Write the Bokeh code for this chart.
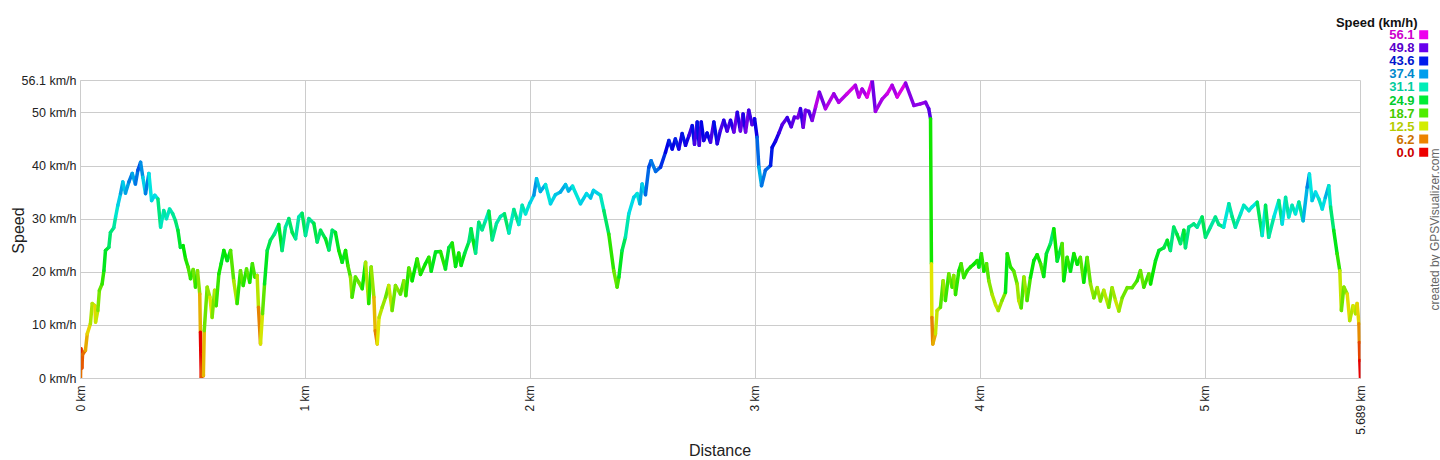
import math
import colorsys
from bokeh.plotting import figure
from bokeh.models import Range1d, FixedTicker, Label, ColumnDataSource, GridBox
from bokeh.transform import linear_cmap
from bokeh.embed import file_html
from bokeh.resources import INLINE

# ---------------- data ----------------
distance_km = [
    0.000, 0.002, 0.006, 0.009, 0.022, 0.030, 0.044, 0.052, 0.064, 0.067,
    0.077, 0.084, 0.096, 0.104, 0.111, 0.126, 0.133, 0.148, 0.156, 0.166,
    0.178, 0.188, 0.200, 0.215, 0.230, 0.244, 0.255, 0.267, 0.277, 0.289,
    0.304, 0.316, 0.330, 0.344, 0.356, 0.370, 0.382, 0.396, 0.410, 0.422,
    0.433, 0.444, 0.456, 0.467, 0.478, 0.489, 0.501, 0.511, 0.520, 0.530,
    0.533, 0.537, 0.543, 0.546, 0.550, 0.563, 0.575, 0.585, 0.596, 0.603,
    0.615, 0.625, 0.637, 0.652, 0.667, 0.681, 0.696, 0.711, 0.723, 0.738,
    0.752, 0.764, 0.775, 0.785, 0.791, 0.800, 0.809, 0.818, 0.830, 0.844,
    0.862, 0.881, 0.896, 0.911, 0.926, 0.941, 0.956, 0.970, 0.985, 1.000,
    1.015, 1.037, 1.052, 1.067, 1.089, 1.104, 1.119, 1.133, 1.148, 1.163,
    1.178, 1.188, 1.200, 1.207, 1.222, 1.237, 1.252, 1.267, 1.281, 1.292,
    1.304, 1.310, 1.319, 1.327, 1.341, 1.356, 1.370, 1.385, 1.400, 1.422,
    1.437, 1.446, 1.459, 1.474, 1.496, 1.511, 1.533, 1.548, 1.559, 1.578,
    1.600, 1.622, 1.637, 1.652, 1.667, 1.681, 1.692, 1.707, 1.726, 1.736,
    1.745, 1.756, 1.770, 1.785, 1.800, 1.815, 1.830, 1.849, 1.867, 1.884,
    1.904, 1.926, 1.948, 1.963, 1.978, 1.997, 2.015, 2.027, 2.044, 2.067,
    2.089, 2.111, 2.133, 2.156, 2.169, 2.187, 2.222, 2.249, 2.267, 2.280,
    2.311, 2.326, 2.348, 2.370, 2.385, 2.393, 2.407, 2.422, 2.437, 2.459,
    2.474, 2.486, 2.496, 2.511, 2.526, 2.536, 2.556, 2.578, 2.600, 2.615,
    2.630, 2.644, 2.659, 2.674, 2.689, 2.704, 2.719, 2.729, 2.741, 2.750,
    2.759, 2.770, 2.785, 2.800, 2.815, 2.830, 2.844, 2.859, 2.874, 2.889,
    2.904, 2.919, 2.933, 2.945, 2.956, 2.970, 2.985, 2.996, 3.007, 3.015,
    3.027, 3.044, 3.067, 3.074, 3.089, 3.104, 3.119, 3.141, 3.159, 3.173,
    3.188, 3.200, 3.212, 3.222, 3.237, 3.252, 3.267, 3.284, 3.311, 3.348,
    3.370, 3.407, 3.444, 3.459, 3.474, 3.496, 3.519, 3.533, 3.563, 3.585,
    3.607, 3.630, 3.667, 3.704, 3.733, 3.756, 3.770, 3.778, 3.782, 3.784,
    3.788, 3.800, 3.807, 3.822, 3.834, 3.844, 3.859, 3.874, 3.881, 3.889,
    3.904, 3.914, 3.926, 3.941, 3.956, 3.970, 3.985, 3.993, 4.004, 4.015,
    4.027, 4.037, 4.052, 4.067, 4.079, 4.096, 4.111, 4.119, 4.133, 4.148,
    4.163, 4.170, 4.181, 4.193, 4.207, 4.222, 4.237, 4.252, 4.267, 4.281,
    4.293, 4.311, 4.326, 4.341, 4.363, 4.370, 4.385, 4.400, 4.415, 4.430,
    4.444, 4.459, 4.474, 4.489, 4.504, 4.519, 4.533, 4.548, 4.570, 4.585,
    4.600, 4.615, 4.630, 4.652, 4.674, 4.696, 4.711, 4.726, 4.748, 4.756,
    4.778, 4.793, 4.815, 4.830, 4.844, 4.859, 4.874, 4.889, 4.904, 4.911,
    4.926, 4.948, 4.963, 4.985, 5.000, 5.022, 5.044, 5.059, 5.081, 5.104,
    5.119, 5.133, 5.156, 5.170, 5.193, 5.207, 5.230, 5.252, 5.267, 5.281,
    5.304, 5.326, 5.341, 5.356, 5.370, 5.385, 5.400, 5.415, 5.434, 5.452,
    5.462, 5.474, 5.489, 5.504, 5.519, 5.533, 5.548, 5.556, 5.570, 5.585,
    5.597, 5.604, 5.615, 5.630, 5.641, 5.656, 5.667, 5.674, 5.682, 5.684,
    5.686, 5.689,
]

speed_kmh = [
    0.0, 5.6, 2.0, 4.5, 5.3, 8.4, 10.3, 14.1, 13.7, 10.6,
    12.8, 16.6, 17.8, 20.3, 24.1, 24.7, 27.5, 28.4, 30.4, 32.6,
    34.8, 37.0, 34.9, 37.0, 38.6, 36.6, 39.2, 40.7, 37.9, 34.8,
    38.6, 33.5, 34.5, 33.8, 28.5, 31.6, 30.1, 31.9, 31.0, 29.7,
    27.9, 24.7, 25.0, 22.5, 21.0, 18.8, 20.5, 17.2, 20.3, 15.9,
    8.7, 0.0, 4.5, 0.5, 9.0, 17.2, 15.3, 11.5, 16.6, 13.7,
    19.7, 21.6, 24.1, 22.2, 24.1, 18.4, 14.1, 20.3, 17.5, 20.6,
    18.1, 21.6, 19.1, 19.4, 13.4, 6.5, 12.2, 17.8, 24.1, 26.0,
    27.2, 29.0, 24.1, 28.5, 30.1, 27.5, 26.3, 30.4, 31.1, 26.9,
    30.1, 29.2, 25.7, 27.9, 26.3, 24.2, 27.9, 27.5, 24.1, 21.9,
    24.1, 21.3, 19.1, 15.3, 19.1, 18.1, 16.9, 21.9, 14.1, 21.0,
    15.3, 9.0, 6.5, 11.5, 13.4, 15.3, 17.5, 12.8, 17.5, 15.9,
    18.4, 15.6, 20.8, 18.4, 22.5, 19.6, 21.6, 22.8, 20.2, 23.8,
    23.9, 20.6, 24.6, 25.5, 21.1, 23.6, 21.3, 23.5, 25.7, 28.2,
    26.0, 23.6, 29.4, 28.0, 29.7, 31.5, 26.1, 29.2, 30.5, 31.0,
    27.4, 31.8, 29.0, 32.6, 31.0, 33.0, 34.5, 37.6, 35.2, 36.5,
    32.9, 34.6, 35.1, 36.5, 35.3, 36.2, 32.9, 34.8, 34.0, 35.4,
    34.5, 31.6, 27.2, 20.3, 17.2, 19.1, 24.1, 26.6, 31.0, 34.1,
    34.8, 32.9, 36.6, 34.6, 39.8, 41.0, 39.0, 39.8, 42.6, 44.8,
    43.2, 45.1, 43.2, 46.1, 43.9, 45.7, 47.6, 44.1, 48.3, 43.9,
    48.3, 44.8, 46.2, 44.5, 48.3, 44.2, 46.7, 48.6, 46.6, 48.6,
    46.4, 50.1, 46.6, 49.8, 46.4, 50.5, 47.8, 48.9, 45.4, 39.8,
    36.3, 39.2, 40.1, 43.5, 44.7, 46.2, 47.8, 49.1, 47.4, 49.2,
    49.1, 50.8, 47.3, 50.5, 50.3, 48.6, 51.1, 53.9, 50.8, 53.6,
    52.0, 53.6, 55.2, 53.0, 54.5, 53.0, 56.1, 50.3, 52.6, 53.6,
    55.2, 53.0, 55.6, 51.4, 51.7, 52.0, 50.8, 48.9, 21.6, 11.5,
    6.5, 8.4, 12.8, 13.4, 18.4, 14.7, 19.7, 17.2, 19.4, 15.8,
    20.3, 21.6, 19.0, 20.3, 21.0, 21.5, 22.2, 21.0, 23.5, 20.2,
    21.6, 18.4, 15.8, 13.9, 12.8, 14.7, 16.2, 23.5, 21.0, 20.2,
    17.8, 14.7, 13.3, 19.1, 14.7, 19.0, 22.2, 23.3, 21.6, 19.2,
    23.5, 25.4, 28.2, 22.1, 25.4, 18.4, 22.8, 20.2, 23.5, 21.5,
    22.8, 18.1, 22.8, 17.8, 15.2, 17.1, 14.6, 16.6, 13.4, 17.1,
    14.7, 12.7, 15.2, 17.1, 17.1, 18.4, 20.3, 17.2, 19.7, 17.8,
    22.2, 24.1, 24.6, 26.0, 24.1, 28.5, 27.1, 25.4, 27.9, 24.6,
    28.5, 29.1, 28.5, 30.4, 26.6, 28.5, 30.4, 29.0, 28.5, 32.9,
    30.4, 28.5, 31.0, 32.6, 31.6, 32.3, 33.2, 26.9, 32.6, 26.6,
    30.4, 33.5, 29.1, 34.1, 30.4, 32.6, 31.0, 33.2, 29.7, 36.0,
    38.5, 33.5, 35.1, 33.8, 31.9, 34.1, 36.3, 32.3, 27.9, 23.5,
    20.3, 12.8, 17.2, 15.9, 10.9, 13.7, 12.2, 14.1, 10.3, 6.8,
    3.4, 0.0,
]

x_ticks = [0, 1, 2, 3, 4, 5, 5.689]
x_tick_labels = ["0 km", "1 km", "2 km", "3 km", "4 km", "5 km", "5.689 km"]
y_ticks = [0, 10, 20, 30, 40, 50, 56.1]
y_tick_labels = ["0 km/h", "10 km/h", "20 km/h", "30 km/h", "40 km/h", "50 km/h", "56.1 km/h"]
legend_values = [56.1, 49.8, 43.6, 37.4, 31.1, 24.9, 18.7, 12.5, 6.2, 0.0]
legend_labels = ["56.1", "49.8", "43.6", "37.4", "31.1", "24.9", "18.7", "12.5", "6.2", "0.0"]
legend_title = "Speed (km/h)"
x_title = "Distance"
y_title = "Speed"
credit = "created by GPSVisualizer.com"

# ---------------- styling ----------------
W, H = 1440, 460
FL, FR, FT, FB = 80, 1360, 80, 378   # plot frame edges on the page
SPEED_MAX = y_ticks[-1]
FONT = "Liberation Sans"


def speed_color(v, val=0.9):
    h = (v / SPEED_MAX) * 300.0 / 360.0
    r, g, b = colorsys.hsv_to_rgb(h, 1.0, val)
    return "#%02x%02x%02x" % (round(r * 255), round(g * 255), round(b * 255))


palette = [speed_color(SPEED_MAX * i / 255.0) for i in range(256)]

# ---------------- main chart ----------------
p = figure(width=W, height=H,
           x_range=Range1d(x_ticks[0], x_ticks[-1]),
           y_range=Range1d(y_ticks[0], y_ticks[-1]),
           output_backend="svg", toolbar_location=None,
           min_border_left=FL, min_border_right=W - FR,
           min_border_top=FT, min_border_bottom=H - FB,
           background_fill_color="white", border_fill_color="white")

xt = FixedTicker(ticks=x_ticks)
yt = FixedTicker(ticks=y_ticks)
p.xaxis.ticker = xt
p.yaxis.ticker = yt
p.xgrid.ticker = xt
p.ygrid.ticker = yt
p.xaxis.major_label_overrides = dict(zip(x_ticks, x_tick_labels))
p.yaxis.major_label_overrides = dict(zip(y_ticks, y_tick_labels))
p.xaxis.major_label_orientation = math.pi / 2
p.xaxis.major_label_standoff = 7
p.yaxis.major_label_standoff = 4
for ax in (p.xaxis[0], p.yaxis[0]):
    ax.major_tick_in = 0
    ax.major_tick_out = 0
    ax.minor_tick_in = 0
    ax.minor_tick_out = 0
    ax.major_tick_line_color = None
    ax.minor_tick_line_color = None
    ax.axis_line_color = "#cccccc"
    ax.major_label_text_font = FONT
    ax.major_label_text_color = "#222222"
p.xaxis.major_label_text_font_size = "12px"
p.yaxis.major_label_text_font_size = "12.5px"
p.grid.grid_line_color = "#cccccc"
p.grid.grid_line_width = 1
p.outline_line_color = "#cccccc"

src = ColumnDataSource(dict(
    x0=distance_km[:-1], y0=speed_kmh[:-1],
    x1=distance_km[1:], y1=speed_kmh[1:],
))
p.segment("x0", "y0", "x1", "y1", source=src,
          line_color=linear_cmap("y1", palette, 0, SPEED_MAX),
          line_width=3.5, line_cap="round")

# ---------------- overlay for texts outside the plot frame ----------------
ov = figure(width=W, height=H,
            output_backend="svg", toolbar_location=None, min_border=0,
            x_axis_type=None, y_axis_type=None,
            background_fill_color=None, border_fill_color=None,
            outline_line_color=None)
if "frame_align" in ov.properties():
    ov.frame_align = False
    p.frame_align = False
    ov.x_range = Range1d(0, W)
    ov.y_range = Range1d(H, 0)
else:
    ov.x_range = Range1d(FL, FR)
    ov.y_range = Range1d(FB, FT)

ov.add_layout(Label(x=18, y=230, text=y_title, angle=math.pi / 2,
                    text_align="center", text_baseline="middle",
                    text_font=FONT, text_font_size="16px", text_color="#222222"))
ov.add_layout(Label(x=719.5, y=450, text=x_title,
                    text_align="center", text_baseline="middle",
                    text_font=FONT, text_font_size="16px", text_color="#222222"))
ov.add_layout(Label(x=1434, y=229, text=credit, angle=math.pi / 2,
                    text_align="center", text_baseline="middle",
                    text_font=FONT, text_font_size="12px", text_color="#666666"))
ov.add_layout(Label(x=1417, y=21.7, text=legend_title,
                    text_align="right", text_baseline="middle",
                    text_font=FONT, text_font_size="13px", text_font_style="bold",
                    text_color="#111111"))

row_y = [34.3 + 13.04 * i for i in range(len(legend_values))]
ov.rect(x=[1423.2] * len(legend_values), y=row_y, width=9, height=9,
        fill_color=[speed_color(v, 0.93) for v in legend_values], line_color=None)
for lab, v, yy in zip(legend_labels, legend_values, row_y):
    ov.add_layout(Label(x=1414, y=yy, text=lab,
                        text_align="right", text_baseline="middle",
                        text_font=FONT, text_font_size="13px", text_font_style="bold",
                        text_color=speed_color(v, 0.8)))

layout = GridBox(children=[(p, 0, 0), (ov, 0, 0)])

open("out.html", "w").write(file_html(layout, INLINE, title="Speed profile"))
